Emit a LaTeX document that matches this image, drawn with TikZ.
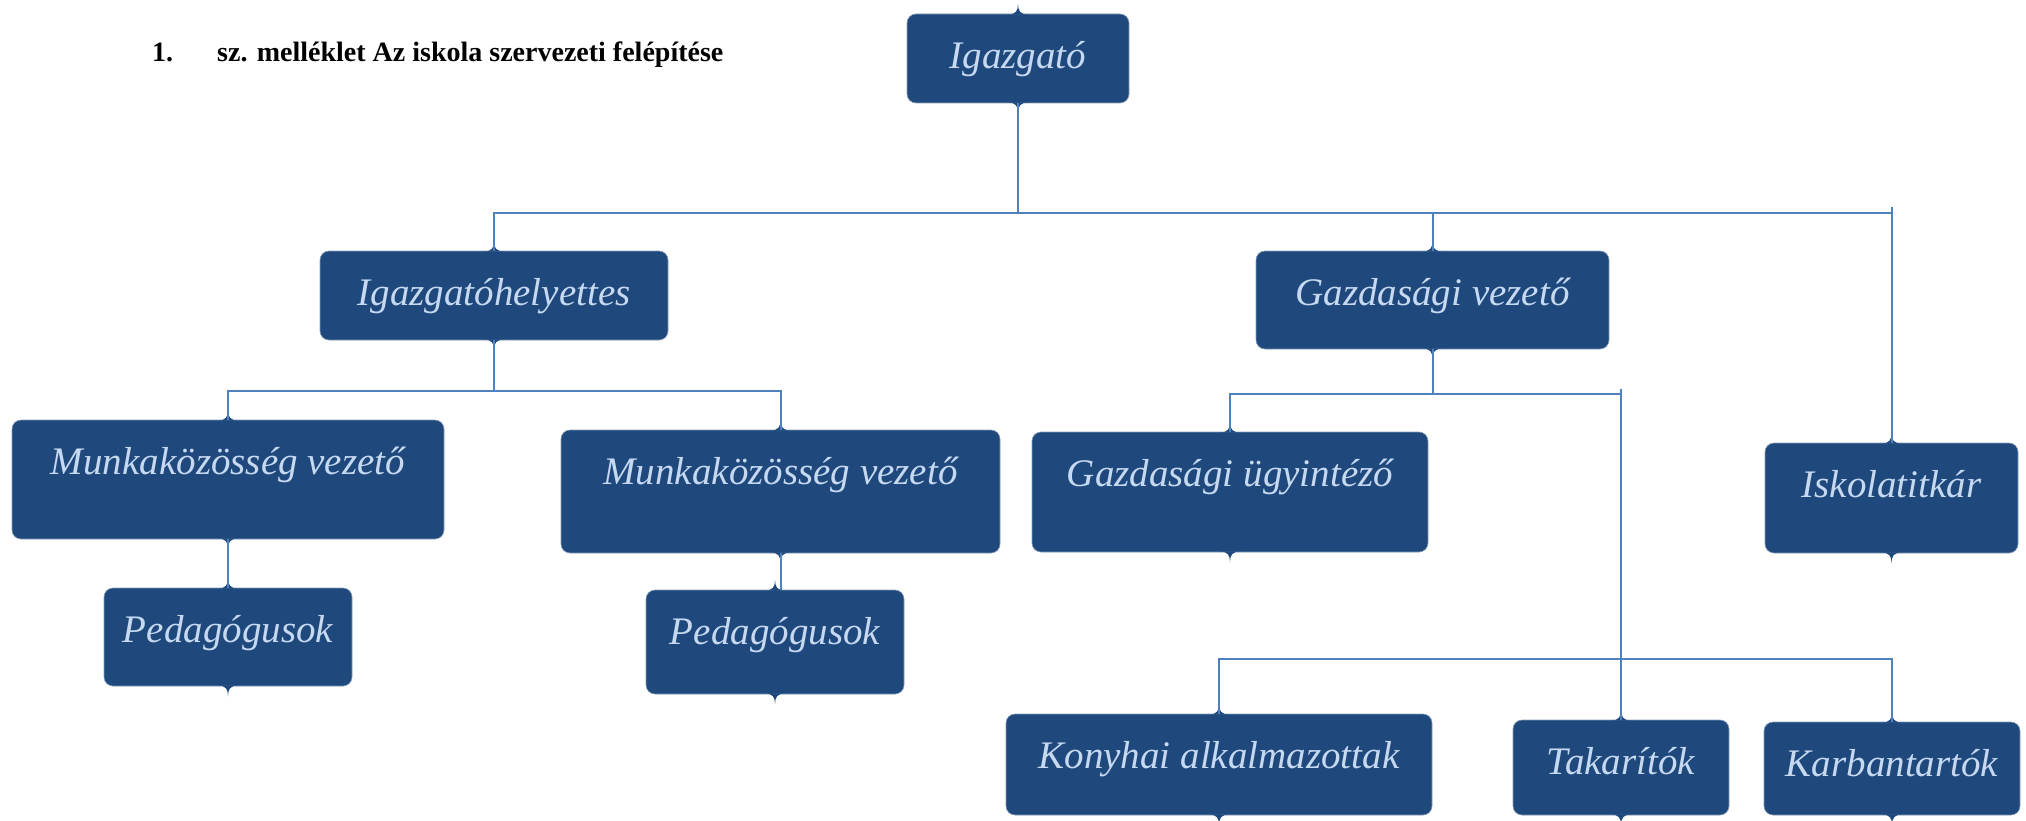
\documentclass[tikz,border=0pt]{standalone}
\usepackage{fontspec}
\setmainfont{Liberation Serif}
\usetikzlibrary{calc}
\definecolor{boxblue}{HTML}{1F497D}
\definecolor{lineblue}{HTML}{4F81BD}
\definecolor{txtblue}{HTML}{C6D9F1}
\tikzset{
  orgbox/.style={rectangle, rounded corners=9pt, fill=boxblue, draw=boxblue!55!white, line width=0.6pt, inner sep=0pt},
  orgtext/.style={anchor=base, text=txtblue, font=\fontsize{39}{44}\selectfont\itshape, inner sep=0pt},
  conn/.style={draw=lineblue, line width=2pt},
  titletext/.style={anchor=base west, font=\fontsize{28}{32}\selectfont\bfseries, inner sep=0pt},
  notch/.style={fill=boxblue}
}
\newcommand{\orgnode}[6]{%
  \node[orgbox, minimum width={#4-#2}, minimum height={#5-#3}] (#1) at ({(#2+#4)/2},{(#3+#5)/2}) {};
  \fill[notch] ($(#1.north)+(-11,1)$) .. controls ($(#1.north)+(-2,1)$) and ($(#1.north)+(0,-3)$) .. ($(#1.north)+(0,-10)$)
     .. controls ($(#1.north)+(0,-3)$) and ($(#1.north)+(2,1)$) .. ($(#1.north)+(11,1)$) -- cycle;
  \fill[notch] ($(#1.south)+(-11,-1)$) .. controls ($(#1.south)+(-2,-1)$) and ($(#1.south)+(0,3)$) .. ($(#1.south)+(0,10)$)
     .. controls ($(#1.south)+(0,3)$) and ($(#1.south)+(2,-1)$) .. ($(#1.south)+(11,-1)$) -- cycle;
  \node[orgtext] (#1-t) at ($(#1.north)+(0,55)$) {#6};
}
\begin{document}
\begin{tikzpicture}[x=1pt, y=-1pt]
\useasboundingbox (0,0) rectangle (2026,821);

% title
\node[titletext] (t1) at (152,62) {1.};
\node[titletext] (t2) at (217,62) {sz. melléklet Az iskola szervezeti felépítése};

% junction levels
\coordinate (b1) at (0,213);
\coordinate (b2) at (0,391);
\coordinate (b3) at (0,394);
\coordinate (b4) at (0,659);

\orgnode{ig}{907}{14}{1129}{103}{Igazgató}
\orgnode{igh}{320}{251}{668}{340}{Igazgatóhelyettes}
\orgnode{gv}{1256}{251}{1609}{349}{Gazdasági vezető}
\orgnode{m1}{12}{420}{444}{539}{Munkaközösség vezető}
\orgnode{m2}{561}{430}{1000}{553}{Munkaközösség vezető}
\orgnode{p1}{104}{588}{352}{686}{Pedagógusok}
\orgnode{p2}{646}{590}{904}{694}{Pedagógusok}
\orgnode{gu}{1032}{432}{1428}{552}{Gazdasági ügyintéző}
\orgnode{isk}{1765}{443}{2018}{553}{Iskolatitkár}
\orgnode{ka}{1006}{714}{1432}{815}{Konyhai alkalmazottak}
\orgnode{tak}{1513}{720}{1729}{815}{Takarítók}
\orgnode{kb}{1764}{722}{2020}{815}{Karbantartók}

% small overshoot points at the right ends of the bars
\coordinate (e1) at ($(isk.north |- b1)+(0,-6)$);
\coordinate (e3) at ($(tak.north |- b3)+(0,-5)$);

% level 1
\draw[conn] (ig.south) -- (ig.south |- b1);
\draw[conn] (igh.north) |- (isk.north |- b1);
\draw[conn] (e1) -- (isk.north);
\draw[conn] (gv.north) -- (gv.north |- b1);
% level 2 left
\draw[conn] (igh.south) -- (igh.south |- b2);
\draw[conn] (m1.north) |- (m2.north |- b2) -- (m2.north);
\draw[conn] (m1.south) -- (m1.south |- p1.north);
\draw[conn] (m2.south) -- (m2.south |- p2.north);
% level 2 right
\draw[conn] (gv.south) -- (gv.south |- b3);
\draw[conn] (gu.north) |- (tak.north |- b3);
\draw[conn] (e3) -- (tak.north);
\draw[conn] (ka.north) |- (kb.north |- b4) -- (kb.north);
\end{tikzpicture}
\end{document}
